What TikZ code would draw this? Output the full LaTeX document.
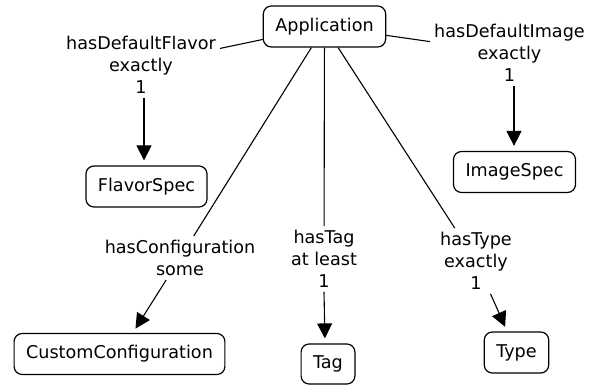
\documentclass[tikz,border=0pt]{standalone}
\usepackage{fontspec}
\setmainfont{DejaVu Sans}
\usetikzlibrary{arrows.meta}
\begin{document}
\begin{tikzpicture}[x=1pt,y=-1pt,
  every node/.style={font=\fontsize{17.6}{22}\selectfont},
  cls/.style={draw,line width=1.2pt,rounded corners=8pt,inner xsep=12pt,
    inner ysep=0pt,minimum height=41pt},
  rel/.style={align=center,inner sep=4pt},
  link/.style={line width=1.1pt},
  pointer/.style={line width=1.1pt,-{Triangle[width=15pt,length=15pt]},shorten >=5pt}]
\useasboundingbox (0,0) rectangle (597,386);

% classes
\node[cls] (app) at (324.5,26.5) {Application};
\node[cls] (flavor) at (146.5,186.5) {FlavorSpec};
\node[cls] (image) at (514.5,172) {ImageSpec};
\node[cls] (custom) at (119.5,354) {CustomConfiguration};
\node[cls,minimum height=40pt] (tag) at (328,364) {Tag};
\node[cls] (type) at (516.5,352.5) {Type};

% restriction labels
\node[rel] (ldf) at (141,65) {hasDefaultFlavor\\exactly\\1};
\node[rel] (ldi) at (509.5,53) {hasDefaultImage\\exactly\\1};
\node[rel] (lcf) at (180,258) {hasConfiguration\\some};
\node[rel] (ltg) at (324,259) {hasTag\\at least\\1};
\node[rel] (lty) at (476,261) {hasType\\exactly\\1};

% edges: class to label, label to target
\draw[link] (app) -- (ldf);
\draw[pointer] ([xshift=3pt]ldf.south) -- ([xshift=-2.5pt]flavor.north);
\draw[link] (app) -- (ldi);
\draw[pointer] ([xshift=4.5pt]ldi.south) -- ([xshift=-0.5pt]image.north);
\draw[link] (app) -- (lcf);
\draw[pointer] (lcf) -- (custom);
\draw[link] (app) -- (ltg);
\draw[pointer] (ltg.south) -- ([xshift=-3pt]tag.north);
\draw[link] (app) -- (lty);
\draw[pointer] (lty) -- (type);
\end{tikzpicture}
\end{document}
